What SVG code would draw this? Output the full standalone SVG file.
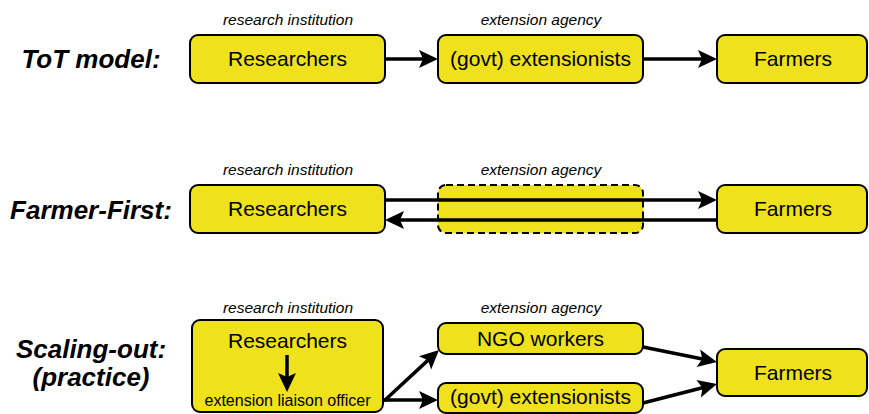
<svg xmlns="http://www.w3.org/2000/svg" width="869" height="414" viewBox="0 0 869 414">
<defs>
<marker id="ah" markerUnits="userSpaceOnUse" markerWidth="20" markerHeight="18" refX="13" refY="9" orient="auto" overflow="visible">
<path d="M0,0 L19,9 L0,18 L4,9 Z" fill="#000"/>
</marker>
</defs>
<style>
.box{fill:#EFE11B;stroke:#000;stroke-width:2}
.dash{stroke-dasharray:7 4}
.t{font-family:"Liberation Sans",Arial,sans-serif;font-size:21px;text-anchor:middle;fill:#000}
.s{font-family:"Liberation Sans",Arial,sans-serif;font-size:15.5px;font-style:italic;text-anchor:middle;fill:#000}
.h{font-family:"Liberation Sans",Arial,sans-serif;font-size:26px;font-style:italic;font-weight:bold;text-anchor:middle;fill:#000}
.small{font-family:"Liberation Sans",Arial,sans-serif;font-size:16px;text-anchor:middle;fill:#000}
.c{stroke:#000;stroke-width:3.5;fill:none;marker-end:url(#ah)}
</style>
<rect width="869" height="414" fill="#fff"/>

<g id="labels">
<text class="h" x="91" y="68">ToT model:</text>
<text class="h" x="91" y="219">Farmer-First:</text>
<text class="h" x="91" y="358">Scaling-out:</text>
<text class="h" x="91" y="386">(practice)</text>
<text class="s" x="288" y="25">research institution</text>
<text class="s" x="541" y="25">extension agency</text>
<text class="s" x="288" y="175">research institution</text>
<text class="s" x="541" y="175">extension agency</text>
<text class="s" x="288" y="313">research institution</text>
<text class="s" x="541" y="313">extension agency</text>
</g>

<g id="tot-researchers">
<rect class="box" x="190" y="35" width="195" height="48" rx="8"/>
<text class="t" x="287.5" y="66">Researchers</text>
</g>
<g id="tot-extensionists">
<rect class="box" x="438" y="35" width="205" height="48" rx="8"/>
<text class="t" x="540.5" y="66">(govt) extensionists</text>
</g>
<g id="tot-farmers">
<rect class="box" x="717" y="35" width="150" height="48" rx="8"/>
<text class="t" x="793" y="66">Farmers</text>
</g>

<g id="ff-researchers">
<rect class="box" x="190" y="185" width="195" height="48" rx="8"/>
<text class="t" x="287.5" y="216">Researchers</text>
</g>
<g id="ff-agency">
<rect class="box dash" x="438" y="185" width="205" height="48" rx="8"/>
</g>
<g id="ff-farmers">
<rect class="box" x="717" y="185" width="150" height="48" rx="8"/>
<text class="t" x="793" y="216">Farmers</text>
</g>

<g id="so-researchers">
<rect class="box" x="192" y="320" width="191" height="92" rx="8"/>
<text class="t" x="287.5" y="348">Researchers</text>
<text class="small" x="287.5" y="406">extension liaison officer</text>
</g>
<g id="so-ngo">
<rect class="box" x="438" y="323" width="205" height="31" rx="8"/>
<text class="t" x="540.5" y="346">NGO workers</text>
</g>
<g id="so-govt">
<rect class="box" x="438" y="383" width="205" height="30" rx="8"/>
<text class="t" x="540.5" y="404">(govt) extensionists</text>
</g>
<g id="so-farmers">
<rect class="box" x="717" y="349" width="150" height="47" rx="8"/>
<text class="t" x="793" y="380">Farmers</text>
</g>

<g id="connectors">
<line class="c" x1="385" y1="59" x2="432" y2="59"/>
<line class="c" x1="643" y1="59" x2="711" y2="59"/>
<line class="c" x1="385" y1="200" x2="711" y2="200"/>
<line class="c" x1="717" y1="220" x2="391" y2="220"/>
<line class="c" x1="287" y1="355" x2="287" y2="386"/>
<line class="c" x1="384" y1="401" x2="434.6" y2="354.1"/>
<line class="c" x1="384" y1="400" x2="432" y2="400"/>
<line class="c" x1="643" y1="347" x2="711.1" y2="360.8"/>
<line class="c" x1="643" y1="403" x2="711.2" y2="385.5"/>
</g>
</svg>
